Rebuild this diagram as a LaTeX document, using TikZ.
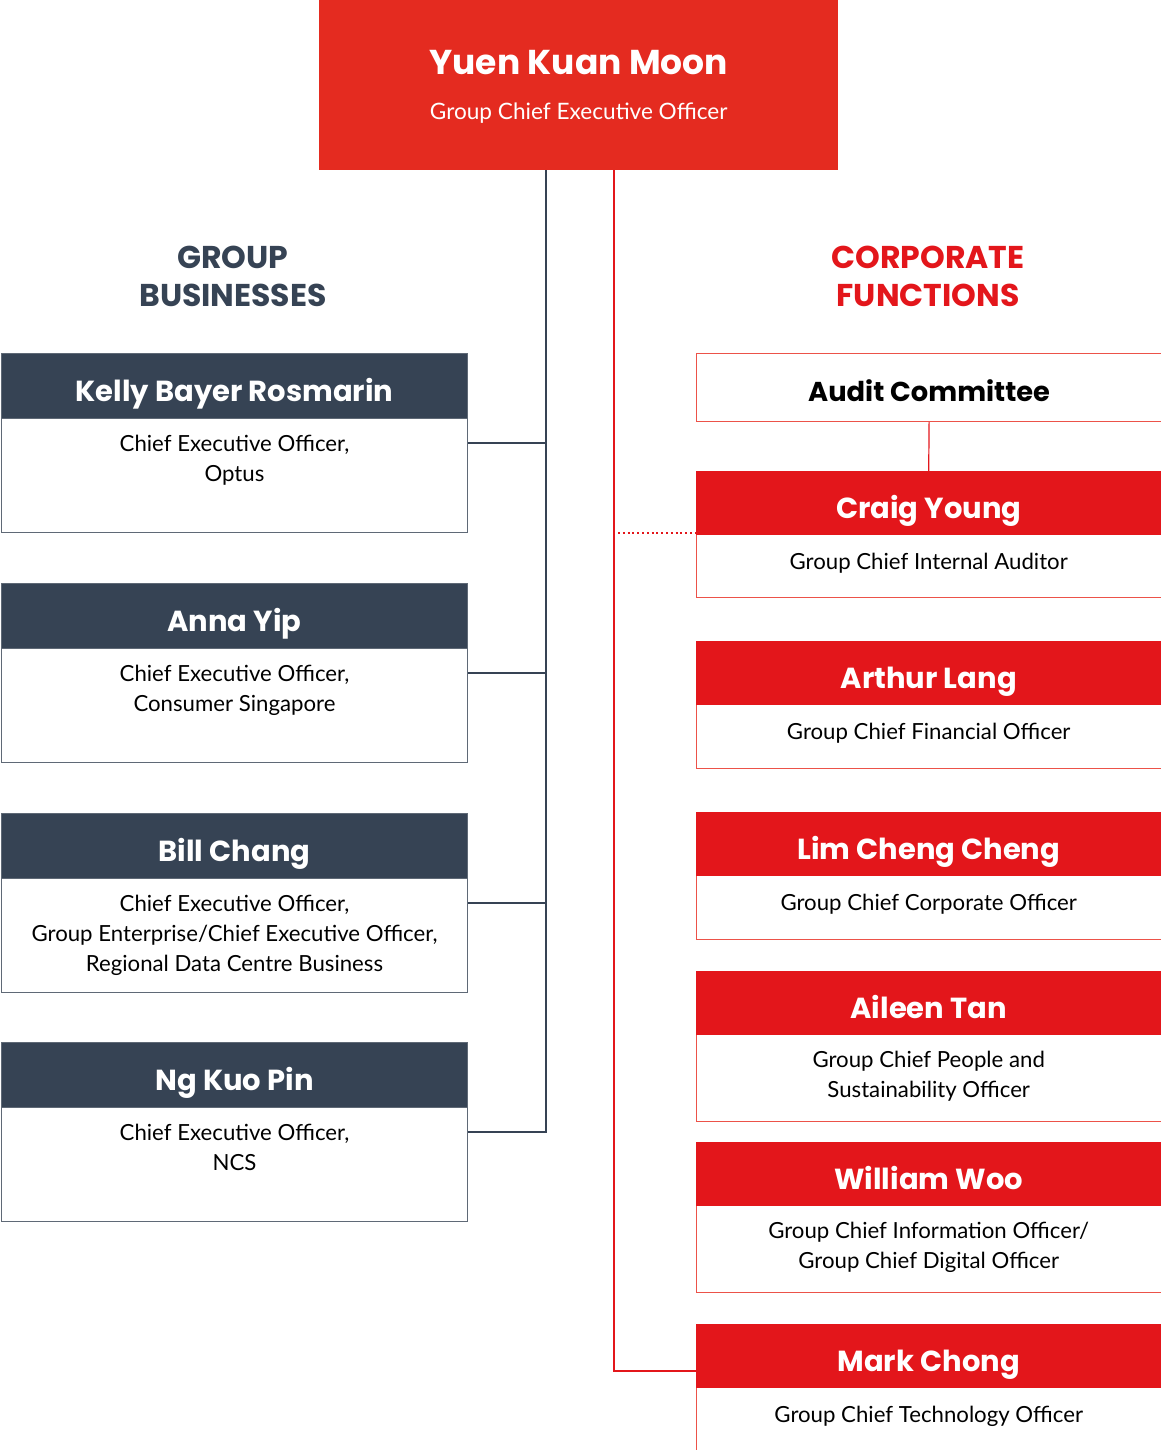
\documentclass[tikz,border=0pt]{standalone}
\usepackage{fontspec}
\usetikzlibrary{calc}
\newfontfamily\nmfont{Poppins}
\newfontfamily\dsfont{Lato}
\definecolor{topred}{HTML}{E42B20}
\definecolor{hdred}{HTML}{E3161B}
\definecolor{bdred}{HTML}{EC5249}
\definecolor{slate}{HTML}{364354}
\definecolor{slatebd}{HTML}{5F6976}
\newcommand\namesize{\nmfont\bfseries\fontsize{29}{32}\selectfont}
\newcommand\descsize{\dsfont\fontsize{22.2}{30}\selectfont}
\tikzset{
 gbbox/.style={draw=slatebd, line width=1pt, minimum width=466pt, minimum height=179pt, anchor=north west, inner sep=0},
 gbhead/.style={fill=slate, draw=slatebd, line width=1pt, minimum width=466pt, minimum height=65pt, anchor=north west, inner sep=0, text=white, font=\namesize, text height=30pt, text depth=0pt},
 desc/.style={anchor=north, align=center, inner sep=0, font=\descsize, text=black},
 cfbox/.style={draw=bdred, line width=1.2pt, minimum width=465pt, anchor=north west, inner sep=0},
 cfhead/.style={fill=hdred, minimum width=465pt, minimum height=64pt, anchor=north west, inner sep=0, text=white, font=\namesize, text height=30pt, text depth=0pt},
 dkline/.style={draw=slate, line width=1.3pt},
 rdline/.style={draw=hdred, line width=1.2pt},
 dotline/.style={draw=hdred, line width=2pt, dash pattern=on 2pt off 2.8pt},
 sectitle/.style={align=center, inner sep=0, font=\nmfont\bfseries\fontsize{31.5}{38}\selectfont},
}
\begin{document}
\begin{tikzpicture}[x=1pt,y=-1pt]
\useasboundingbox (0,0) rectangle (1161,1450);
\clip (0,0) rectangle (1161,1450);
% CEO
\node[fill=topred, minimum width=519pt, minimum height=170pt, anchor=north west, inner sep=0] (ceo) at (319,0) {};
\node[text=white, inner sep=0, font=\nmfont\bfseries\fontsize{34.5}{40}\selectfont] (ceoname) at ($(ceo.north)+(0,63)$) {Yuen Kuan Moon};
\node[text=white, inner sep=0, font=\dsfont\fontsize{22.6}{30}\selectfont] (ceotitle) at ($(ceo.north)+(0,113)$) {Group Chief Executive Officer};
% section titles
\node[sectitle, text=slate] (gbtitle) at (233,276) {GROUP\\BUSINESSES};
\node[sectitle, text=hdred] (cftitle) at (928,276) {CORPORATE\\FUNCTIONS};
% group businesses
\node[gbbox] (kelly) at (1,353) {};
\node[gbhead] (kellyh) at (kelly.north west) {Kelly Bayer Rosmarin};
\node[desc] (kellyd) at ($(kellyh.south)+(0,16)$) {Chief Executive Officer,\\Optus};
\node[gbbox] (anna) at (1,583) {};
\node[gbhead] (annah) at (anna.north west) {Anna Yip};
\node[desc] (annad) at ($(annah.south)+(0,16)$) {Chief Executive Officer,\\Consumer Singapore};
\node[gbbox] (bill) at (1,813) {};
\node[gbhead] (billh) at (bill.north west) {Bill Chang};
\node[desc] (billd) at ($(billh.south)+(0,16)$) {Chief Executive Officer,\\Group Enterprise/Chief Executive Officer,\\Regional Data Centre Business};
\node[gbbox] (ng) at (1,1042) {};
\node[gbhead] (ngh) at (ng.north west) {Ng Kuo Pin};
\node[desc] (ngd) at ($(ngh.south)+(0,16)$) {Chief Executive Officer,\\NCS};
% corporate functions
\node[cfbox, minimum height=68pt, text=black, font=\nmfont\bfseries\fontsize{27.3}{32}\selectfont, text height=28pt, text depth=0pt] (audit) at (696,353) {Audit Committee};
\node[cfbox, minimum height=126pt] (craig) at (696,471) {};
\node[cfhead] (craigh) at (craig.north west) {Craig Young};
\node[desc] (craigd) at ($(craigh.south)+(0,18)$) {Group Chief Internal Auditor};
\node[cfbox, minimum height=127pt] (arthur) at (696,641) {};
\node[cfhead] (arthurh) at (arthur.north west) {Arthur Lang};
\node[desc] (arthurd) at ($(arthurh.south)+(0,18)$) {Group Chief Financial Officer};
\node[cfbox, minimum height=127pt] (lim) at (696,812) {};
\node[cfhead] (limh) at (lim.north west) {Lim Cheng Cheng};
\node[desc] (limd) at ($(limh.south)+(0,18)$) {Group Chief Corporate Officer};
\node[cfbox, minimum height=150pt] (aileen) at (696,971) {};
\node[cfhead] (aileenh) at (aileen.north west) {Aileen Tan};
\node[desc] (aileend) at ($(aileenh.south)+(0,16)$) {Group Chief People and\\Sustainability Officer};
\node[cfbox, minimum height=150pt] (william) at (696,1142) {};
\node[cfhead] (williamh) at (william.north west) {William Woo};
\node[desc] (williamd) at ($(williamh.south)+(0,16)$) {Group Chief Information Officer/\\Group Chief Digital Officer};
\node[cfbox, minimum height=160pt] (mark) at (696,1324) {};
\node[cfhead] (markh) at (mark.north west) {Mark Chong};
\node[desc] (markd) at ($(markh.south)+(0,18)$) {Group Chief Technology Officer};
% connectors left
\coordinate (gbx) at (546,0);
\draw[dkline] (ceo.south -| gbx) -- (gbx |- ng.east) -- (ng.east);
\draw[dkline] (kelly.east) -- (kelly.east -| gbx);
\draw[dkline] (anna.east) -- (anna.east -| gbx);
\draw[dkline] (bill.east) -- (bill.east -| gbx);
% connectors right
\coordinate (cfx) at (614,0);
\coordinate (cfxd) at (618,0);
\coordinate (markj) at ($(mark.north west)+(0,47)$);
\draw[rdline] (ceo.south -| cfx) |- (markj);
\draw[rdline] ($(arthur.north west)+(0,63)$) -- ($(arthur.north west)+(0,63)$ -| cfx);
\draw[rdline] ($(lim.north west)+(0,63)$) -- ($(lim.north west)+(0,63)$ -| cfx);
\draw[rdline] ($(aileen.north west)+(0,80)$) -- ($(aileen.north west)+(0,80)$ -| cfx);
\draw[rdline] ($(william.north west)+(0,79)$) -- ($(william.north west)+(0,79)$ -| cfx);
\draw[rdline] (audit.south) -- (craigh.north);
\coordinate (dotend) at (craigh.south west -| cfxd);
\draw[dotline] ([yshift=2pt]dotend) -- ([yshift=2pt]craigh.south west);
\end{tikzpicture}
\end{document}
